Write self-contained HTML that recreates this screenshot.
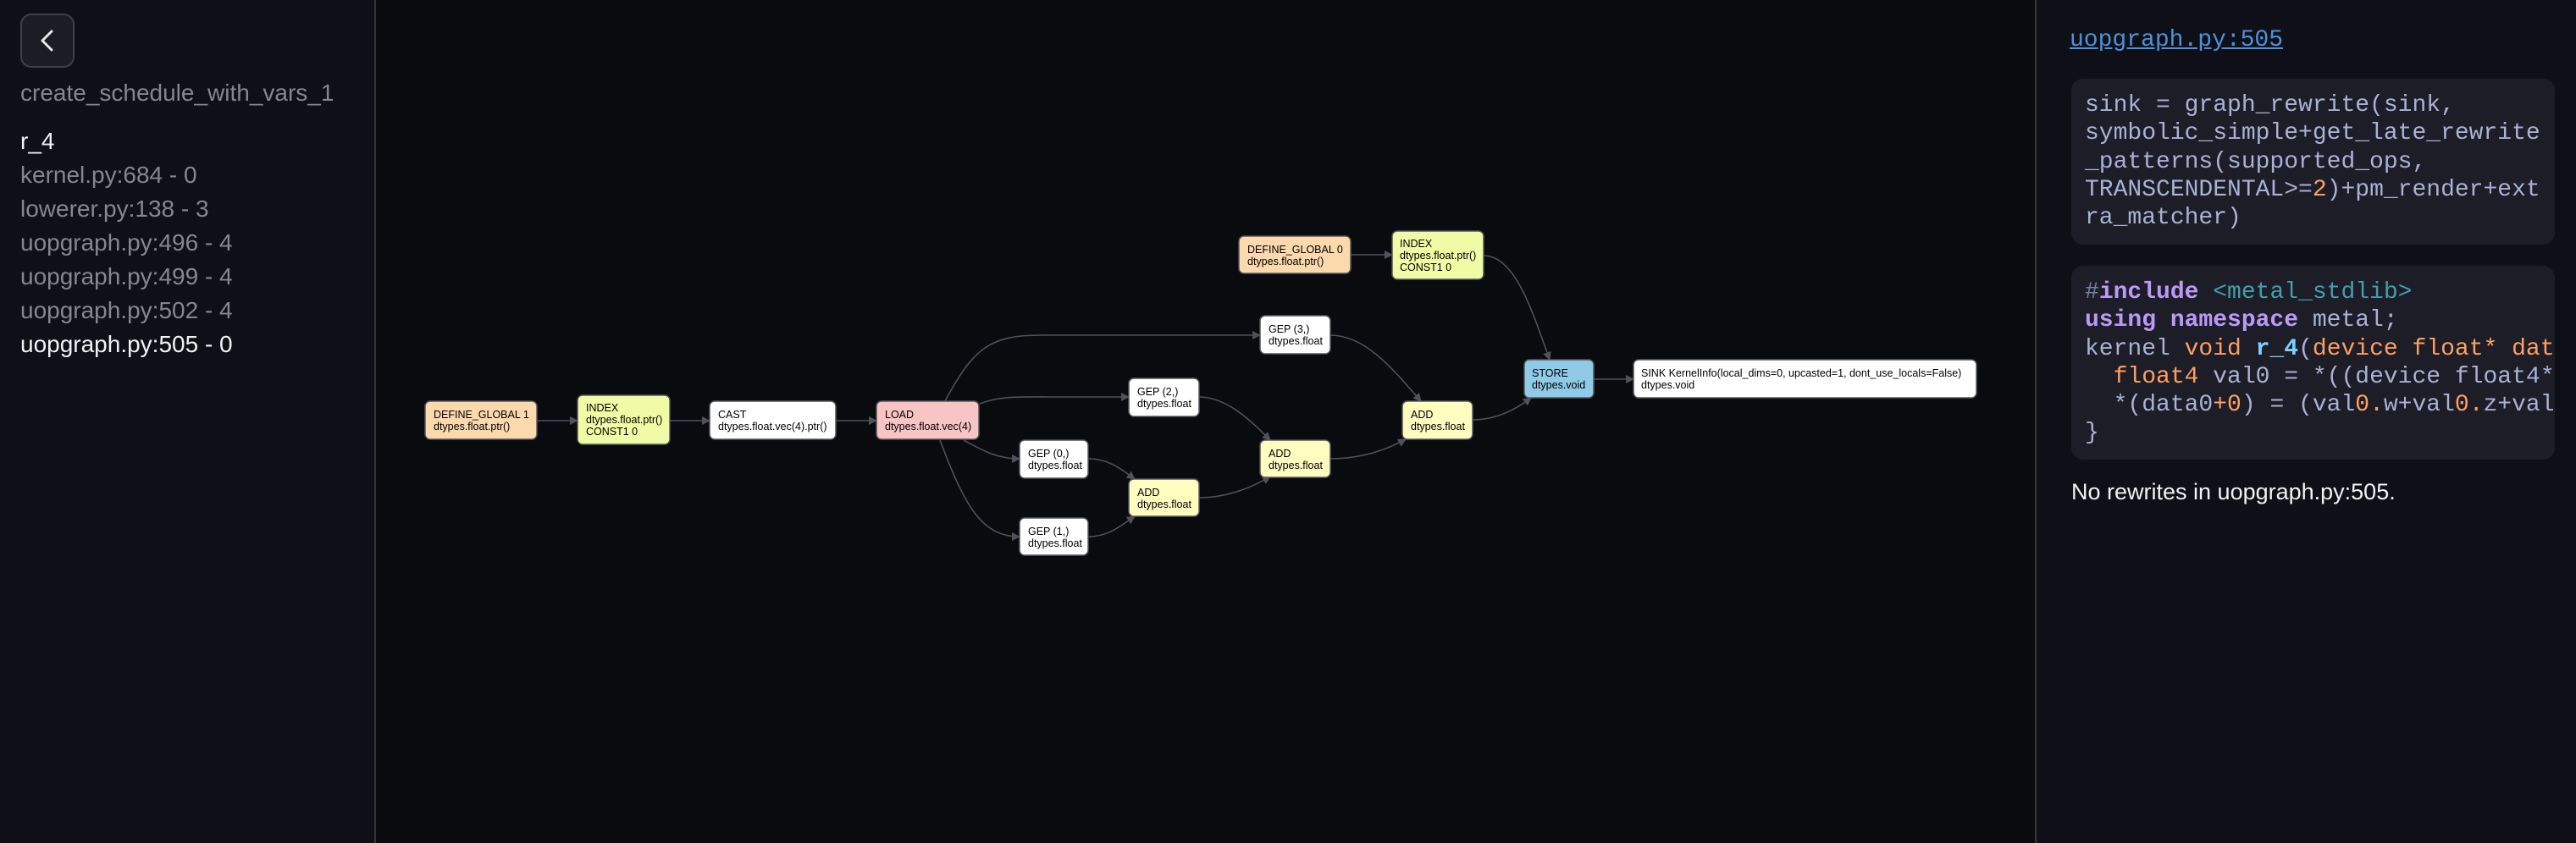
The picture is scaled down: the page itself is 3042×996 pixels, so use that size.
<!DOCTYPE html>
<html><head><meta charset="utf-8"><style>
*{margin:0;padding:0;box-sizing:border-box}
body{width:3042px;height:996px;overflow:hidden;background:#0a0b0f;font-family:"Liberation Sans",sans-serif;position:relative}
#left{position:absolute;left:0;top:0;width:444px;height:996px;background:#0f1017;border-right:2px solid #34353d}
#back{position:absolute;left:24px;top:16px;width:64px;height:64px;border:2px solid #3e3f48;border-radius:13px;background:#1b1c24}
#title{position:absolute;left:24px;top:94px;font-size:28px;color:#85868e;white-space:nowrap}
.it{position:absolute;left:24px;font-size:28px;color:#85868e;white-space:nowrap}
.w{color:#f2f2f4}
#right{position:absolute;left:2403px;top:0;width:639px;height:996px;background:#0f1017;border-left:2px solid #34353d}
#link{position:absolute;left:39px;top:32px;font-family:"Liberation Mono",monospace;font-size:28px;color:#4c92db;text-decoration:underline}
.code{position:absolute;left:41px;width:571px;background:#1c1d26;border-radius:14px;font-family:"Liberation Mono",monospace;font-size:28px;line-height:33.3px;color:#a9b1d6;white-space:pre;overflow:hidden;padding:15px 0 0 16px}
.o{color:#ff9e64}.k{color:#bb9af7;font-weight:bold}.s{color:#449dab}.b{color:#7dcfff;font-weight:bold}.c{color:#7a81a0}
#norw{position:absolute;left:41px;top:566px;font-size:27px;color:#f2f2f4}
</style></head><body>
<div id="left">
<div id="back"><svg width="60" height="60" viewBox="0 0 60 60"><path d="M35 19 L24 30 L35 41" fill="none" stroke="#e8e8ea" stroke-width="3" stroke-linecap="round" stroke-linejoin="round"/></svg></div>
<div id="title">create_schedule_with_vars_1</div>
<div class="it w" style="top:151px">r_4</div>
<div class="it" style="top:191px">kernel.py:684 - 0</div>
<div class="it" style="top:231px">lowerer.py:138 - 3</div>
<div class="it" style="top:271px">uopgraph.py:496 - 4</div>
<div class="it" style="top:311px">uopgraph.py:499 - 4</div>
<div class="it" style="top:351px">uopgraph.py:502 - 4</div>
<div class="it w" style="top:391px">uopgraph.py:505 - 0</div>
</div>

<svg style="position:absolute;left:0;top:0" width="3042" height="996">
<defs><marker id="a" markerWidth="10" markerHeight="10" refX="9" refY="5" orient="auto" markerUnits="userSpaceOnUse"><path d="M0,0 L10,5 L0,10z" fill="#50515a"/></marker></defs>
<g fill="none" stroke="#50515a" stroke-width="1.6" marker-end="url(#a)">
<path d="M634 497 L682 497"/>
<path d="M791 497 L838 497"/>
<path d="M987 497 L1035 497"/>
<path d="M1116 474 C1150 410 1170 396 1230 396 L1488 396"/>
<path d="M1157 477 C1180 468 1200 469 1240 469 L1333 469"/>
<path d="M1138 520 C1165 535 1180 542 1204 542"/>
<path d="M1110 520 C1140 600 1160 634 1204 634"/>
<path d="M1285 542 C1310 542 1325 555 1340 566"/>
<path d="M1285 634 C1310 634 1325 620 1340 610"/>
<path d="M1416 469 C1450 469 1480 500 1500 520"/>
<path d="M1416 588 C1450 588 1480 575 1500 563"/>
<path d="M1571 396 C1610 396 1640 430 1678 474"/>
<path d="M1571 542 C1610 542 1640 530 1660 519"/>
<path d="M1739 496 C1770 496 1795 480 1808 470"/>
<path d="M1752 302 C1790 302 1810 370 1830 425"/>
<path d="M1595 301 L1644 301"/>
<path d="M1882 448 L1929 448"/>
</g>
<g stroke="#55565e" stroke-width="1.5">
<rect x="502" y="474" width="132" height="45" rx="6" fill="#fbd9ad"/>
<rect x="682" y="467" width="109" height="58" rx="6" fill="#effba5"/>
<rect x="838" y="474" width="149" height="45" rx="6" fill="#fff"/>
<rect x="1035" y="474" width="121" height="45" rx="6" fill="#f8c4c4"/>
<rect x="1333" y="447" width="83" height="45" rx="6" fill="#fff"/>
<rect x="1204" y="520" width="81" height="45" rx="6" fill="#fff"/>
<rect x="1333" y="566" width="83" height="44" rx="6" fill="#fffcc0"/>
<rect x="1204" y="612" width="81" height="44" rx="6" fill="#fff"/>
<rect x="1488" y="373" width="83" height="45" rx="6" fill="#fff"/>
<rect x="1488" y="520" width="83" height="44" rx="6" fill="#fffcc0"/>
<rect x="1656" y="474" width="83" height="45" rx="6" fill="#fffcc0"/>
<rect x="1463" y="279" width="132" height="44" rx="6" fill="#fbd9ad"/>
<rect x="1644" y="273" width="108" height="57" rx="6" fill="#effba5"/>
<rect x="1800" y="425" width="82" height="45" rx="6" fill="#8fcae6"/>
<rect x="1929" y="425" width="405" height="45" rx="6" fill="#fff"/>
</g>
<g font-family="Liberation Sans, sans-serif" font-size="12.5" fill="#000">
<text x="512" y="494">DEFINE_GLOBAL 1</text><text x="512" y="508">dtypes.float.ptr()</text>
<text x="692" y="486">INDEX</text><text x="692" y="500">dtypes.float.ptr()</text><text x="692" y="514">CONST1 0</text>
<text x="848" y="494">CAST</text><text x="848" y="508">dtypes.float.vec(4).ptr()</text>
<text x="1045" y="494">LOAD</text><text x="1045" y="508">dtypes.float.vec(4)</text>
<text x="1343" y="467">GEP (2,)</text><text x="1343" y="481">dtypes.float</text>
<text x="1214" y="540">GEP (0,)</text><text x="1214" y="554">dtypes.float</text>
<text x="1343" y="586">ADD</text><text x="1343" y="600">dtypes.float</text>
<text x="1214" y="632">GEP (1,)</text><text x="1214" y="646">dtypes.float</text>
<text x="1498" y="393">GEP (3,)</text><text x="1498" y="407">dtypes.float</text>
<text x="1498" y="540">ADD</text><text x="1498" y="554">dtypes.float</text>
<text x="1666" y="494">ADD</text><text x="1666" y="508">dtypes.float</text>
<text x="1473" y="299">DEFINE_GLOBAL 0</text><text x="1473" y="313">dtypes.float.ptr()</text>
<text x="1653" y="292">INDEX</text><text x="1653" y="306">dtypes.float.ptr()</text><text x="1653" y="320">CONST1 0</text>
<text x="1809" y="445">STORE</text><text x="1809" y="459">dtypes.void</text>
<text x="1938" y="445">SINK KernelInfo(local_dims=0, upcasted=1, dont_use_locals=False)</text><text x="1938" y="459">dtypes.void</text>
</g>
</svg>

<div id="right">
<div id="link">uopgraph.py:505</div>
<div class="code" style="top:93px;height:196px">sink = graph_rewrite(sink,
symbolic_simple+get_late_rewrite
_patterns(supported_ops,
TRANSCENDENTAL&gt;=<span class="o">2</span>)+pm_render+ext
ra_matcher)</div>
<div class="code" style="top:314px;height:229px"><span class="c">#</span><span class="k">include</span> <span class="s">&lt;metal_stdlib&gt;</span>
<span class="k">using namespace</span> metal;
kernel <span class="o">void</span> <span class="b">r_4</span>(<span class="o">device float* data0, device float* data1</span>
  <span class="o">float4</span> val0 = *((device float4*)((data1+0)));
  *(data0<span class="o">+0</span>) = (val<span class="o">0.</span>w+val<span class="o">0.</span>z+val0.x+val0.y);
}</div>
<div id="norw">No rewrites in uopgraph.py:505.</div>
</div>
</body></html>
